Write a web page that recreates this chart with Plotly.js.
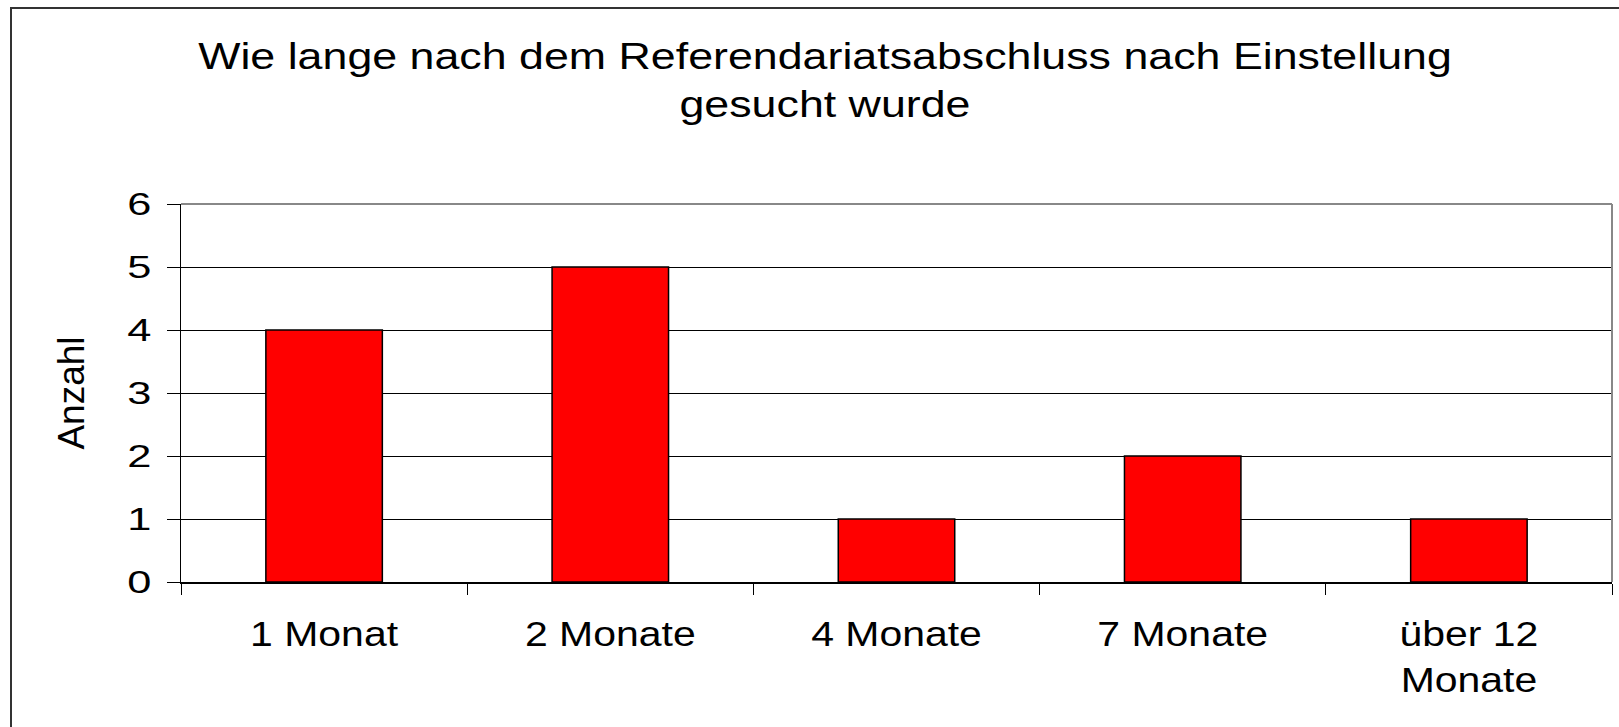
<!DOCTYPE html>
<html>
<head>
<meta charset="utf-8">
<script src="https://cdn.plot.ly/plotly-3.0.1.min.js"></script>
<style>
  html, body { margin: 0; padding: 0; background: #fff; overflow: hidden; }
  #chart { width: 1619px; height: 727px; }
</style>
</head>
<body>
<div id="chart"></div>
<script>
// ---- data ----
const categories = ['1 Monat', '2 Monate', '4 Monate', '7 Monate', 'über 12<br>Monate'];
const counts = [4, 5, 1, 2, 1];
const yTickVals = [0, 1, 2, 3, 4, 5, 6];
const titleText = 'Wie lange nach dem Referendariatsabschluss nach Einstellung<br>gesucht wurde';
const yTitleText = 'Anzahl';

// ---- layout geometry (pixels) ----
const W = 1619, H = 727;
const L = 181, R = W - 1612, T = 204, B = H - 582;
const PW = W - L - R, PH = H - T - B;
const px2x = p => (p - L) / PW;
const py2y = p => (H - B - p) / PH;

const FONT = 'Liberation Sans, Arial, Helvetica, sans-serif';

const trace = {
  type: 'bar',
  x: categories,
  y: counts,
  marker: { color: '#ff0000', line: { color: '#000000', width: 1.5 } },
  hoverinfo: 'x+y'
};

const layout = {
  width: W, height: H,
  margin: { l: L, r: R, t: T, b: B, pad: 0 },
  paper_bgcolor: '#ffffff',
  plot_bgcolor: '#ffffff',
  showlegend: false,
  bargap: 0.593,
  font: { family: FONT, color: '#000000' },
  title: {
    text: titleText,
    font: { family: FONT, size: 37, color: '#000000' },
    xref: 'paper', x: px2x(825), xanchor: 'center',
    yref: 'container', y: 1 - 69 / H, yanchor: 'top'
  },
  xaxis: {
    type: 'category',
    range: [-0.5, 4.5],
    showgrid: false,
    zeroline: false,
    showline: true, linecolor: '#000000', linewidth: 1.5,
    ticks: 'outside', tickson: 'boundaries', ticklen: 11, tickwidth: 1, tickcolor: '#000000',
    tickfont: { family: FONT, size: 35, color: '#000000' },
    ticklabelstandoff: 21,
    fixedrange: true
  },
  yaxis: {
    range: [0, 6],
    tickvals: yTickVals,
    ticktext: yTickVals.map(String),
    showgrid: true, gridcolor: '#000000', gridwidth: 1,
    zeroline: false,
    showline: true, linecolor: '#000000', linewidth: 1.5,
    ticks: 'outside', ticklen: 13, tickwidth: 1, tickcolor: '#000000',
    tickfont: { family: FONT, size: 31, color: '#000000' },
    ticklabelstandoff: 9,
    title: { text: yTitleText, font: { family: FONT, size: 37, color: '#000000' }, standoff: 38 },
    automargin: false,
    fixedrange: true
  },
  shapes: [
    // outer chart border (extends beyond the picture on the right and bottom)
    { type: 'rect', xref: 'paper', yref: 'paper',
      x0: px2x(11), x1: px2x(1645), y0: py2y(745), y1: py2y(8),
      line: { color: '#333333', width: 2 }, layer: 'above' },
    // plot-area border: top and right (gray)
    { type: 'line', xref: 'paper', yref: 'paper', x0: 0, x1: 1, y0: 1, y1: 1,
      line: { color: '#888888', width: 2 }, layer: 'above' },
    { type: 'line', xref: 'paper', yref: 'paper', x0: 1, x1: 1, y0: 0, y1: 1,
      line: { color: '#888888', width: 2 }, layer: 'above' }
  ]
};

function stretchText(gd, selector, s) {
  gd.querySelectorAll(selector).forEach(t => {
    const bb = t.getBBox();
    const anchor = t.getAttribute('text-anchor') || 'start';
    const ax = anchor === 'middle' ? bb.x + bb.width / 2 : (anchor === 'end' ? bb.x + bb.width : bb.x);
    const tr = t.getAttribute('transform') || '';
    t.setAttribute('transform', tr + ' translate(' + ax + ',0) scale(' + s + ',1) translate(' + (-ax) + ',0)');
  });
}

const gd = document.getElementById('chart');
Plotly.newPlot(gd, [trace], layout, { displayModeBar: false, staticPlot: true }).then(() => {
  stretchText(gd, '.gtitle', 1.21);
  stretchText(gd, '.xtick text', 1.17);
  stretchText(gd, '.ytick text', 1.4);
});
</script>
</body>
</html>
